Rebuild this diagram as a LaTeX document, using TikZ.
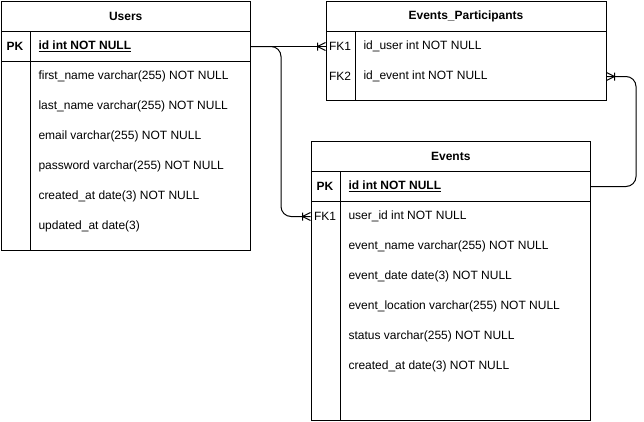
\documentclass[tikz,border=0pt]{standalone}
\usepackage{fontspec}
\setmainfont{Liberation Sans}

\tikzset{
  manyfoot/.pic={\draw (-8,-4) -- (-8,4) (0,-4) -- (-8,0) -- (0,4);}
}

\begin{document}
\begin{tikzpicture}[
    x=1pt, y=-1pt,
    line width=1pt,
    every node/.style={font=\fontsize{12}{14}\selectfont},
    frame/.style={draw, anchor=north west, inner sep=0pt},
    header/.style={draw, anchor=north west, minimum height=30pt, inner sep=0pt,
      font=\fontsize{12}{14}\selectfont\bfseries},
    keyrow/.style={draw, anchor=north west, minimum height=30pt, inner sep=0pt},
    row/.style={anchor=north west, minimum height=30pt, inner sep=0pt},
    field/.style={anchor=west, inner sep=0pt},
    keytag/.style={inner sep=0pt, font=\fontsize{12}{14}\selectfont\bfseries}
  ]
  \useasboundingbox (0,0) rectangle (644,421);

  % Users
  \node[frame, minimum width=249.5pt, minimum height=249pt] (users) at (0.5,1) {};
  \node[header, minimum width=249.5pt] (users-head) at (0.5,1) {Users};
  \node[keyrow, minimum width=249.5pt] (users-pk) at (0.5,31) {};
  \draw ([xshift=30pt]users-pk.north west) -- ([xshift=30pt]users.south west);
  \node[keytag] (users-pk-tag) at (15,46.5) {PK};
  \node[field] (users-id) at (38,46.5) {\textbf{\underline{id int NOT NULL}}};
  \foreach \f [count=\i] in {first\_name varchar(255) NOT NULL,
      last\_name varchar(255) NOT NULL, email varchar(255) NOT NULL,
      password varchar(255) NOT NULL, created\_at date(3) NOT NULL,
      updated\_at date(3)}
    \node[field] (users-f\i) at (38,46.5+30*\i) {\f};

  % Events_Participants
  \node[frame, minimum width=280pt, minimum height=99pt] (ep) at (325.5,1) {};
  \node[header, minimum width=280pt] (ep-head) at (325.5,1) {Events\_Participants};
  \node[row, minimum width=280pt] (ep-fk1) at (325.5,31) {};
  \node[row, minimum width=280pt] (ep-fk2) at (325.5,61) {};
  \draw ([xshift=30pt]ep-fk1.north west) -- ([xshift=30pt]ep.south west);
  \node[inner sep=0pt] (ep-fk1-tag) at (340,46.5) {FK1};
  \node[inner sep=0pt] (ep-fk2-tag) at (340,76.5) {FK2};
  \node[field] (ep-user) at (363,46.5) {id\_user int NOT NULL};
  \node[field] (ep-event) at (363,76.5) {id\_event int NOT NULL};

  % Events
  \node[frame, minimum width=279.5pt, minimum height=279pt] (ev) at (310.5,141) {};
  \node[header, minimum width=279.5pt] (ev-head) at (310.5,141) {Events};
  \node[keyrow, minimum width=279.5pt] (ev-pk) at (310.5,171) {};
  \node[row, minimum width=279.5pt] (ev-fk1) at (310.5,201) {};
  \draw ([xshift=30pt]ev-pk.north west) -- ([xshift=30pt]ev.south west);
  \node[keytag] (ev-pk-tag) at (325,186.5) {PK};
  \node[inner sep=0pt] (ev-fk1-tag) at (325,216.5) {FK1};
  \node[field] (ev-id) at (348,186.5) {\textbf{\underline{id int NOT NULL}}};
  \foreach \f [count=\i] in {user\_id int NOT NULL,
      event\_name varchar(255) NOT NULL, event\_date date(3) NOT NULL,
      event\_location varchar(255) NOT NULL, status varchar(255) NOT NULL,
      created\_at date(3) NOT NULL}
    \node[field] (ev-f\i) at (348,186.5+30*\i) {\f};

  % relations
  \draw (users-pk.east) -- (ep-fk1.west);
  \draw[rounded corners=10pt] (users-pk.east) -- ++(30,0) |- (ev-fk1.west);
  \draw[rounded corners=10pt] (ev-pk.east) -- ++(45,0) |- (ep-fk2.east);
  \pic at (ep-fk1.west) {manyfoot};
  \pic at (ev-fk1.west) {manyfoot};
  \pic[rotate=180] at (ep-fk2.east) {manyfoot};
\end{tikzpicture}
\end{document}
